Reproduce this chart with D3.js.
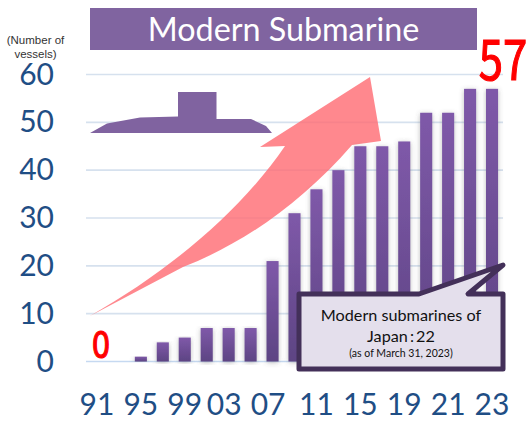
<!DOCTYPE html>
<html>
<head>
<meta charset="utf-8">
<script src="https://cdn.jsdelivr.net/npm/d3@7"></script>
<style>
  html, body { margin: 0; padding: 0; background: #fff; }
  svg { display: block; }
</style>
</head>
<body>
<div id="chart"></div>
<script>
let years = ['91', '93', '95', '97', '99', '01', '03', '05', '07', '09', '11', '13', '15', '17', '19', '20', '21', '22', '23']
let vessels = [0, 0, 1, 4, 5, 7, 7, 7, 21, 31, 36, 40, 45, 45, 46, 52, 52, 57, 57]
let yearLabels = ['91', '95', '99', '03', '07', '11', '15', '19', '21', '23']
let vesselTicks = [0, 10, 20, 30, 40, 50, 60]

let width = 528
let height = 430

let svg = d3.select('#chart').append('svg')
  .attr('width', width)
  .attr('height', height)

let defs = svg.append('defs')

let gradient = defs.append('linearGradient')
  .attr('id', 'bar-fill')
  .attr('x1', 0).attr('x2', 0).attr('y1', 0).attr('y2', 1)
gradient.append('stop').attr('offset', '0%').attr('stop-color', '#7f59a9')
gradient.append('stop').attr('offset', '100%').attr('stop-color', '#5d4483')

defs.append('filter')
  .attr('id', 'bar-shadow')
  .attr('x', '-60%').attr('width', '220%')
  .attr('y', '-5%').attr('height', '115%')
  .append('feDropShadow')
  .attr('dx', 0).attr('dy', 1)
  .attr('stdDeviation', 2.5)
  .attr('flood-color', '#555')
  .attr('flood-opacity', 0.4)

let xScale = d3.scaleBand()
  .domain(years)
  .range([86, 503])
  .paddingInner(0.45)
  .paddingOuter(0.225)

let yScale = d3.scaleLinear()
  .domain([0, 60])
  .range([361.5, 74.5])

// gridlines
svg.append('g')
  .selectAll('line')
  .data(vesselTicks)
  .enter().append('line')
  .attr('x1', 86)
  .attr('x2', d => d === 0 ? 497 : 503)
  .attr('y1', d => yScale(d))
  .attr('y2', d => yScale(d))
  .attr('stroke', d => d === 0 ? '#c6d9f1' : '#d6e1ee')
  .attr('stroke-width', 1.6)

// submarine silhouette
let hull = d3.path()
hull.moveTo(90, 133)
hull.lineTo(107, 123.5)
hull.lineTo(140, 117.5)
hull.lineTo(178, 116.5)
hull.lineTo(178, 92)
hull.lineTo(216.5, 92)
hull.lineTo(216.5, 119)
hull.lineTo(251, 119)
hull.lineTo(266, 126)
hull.lineTo(272, 133)
hull.closePath()

svg.append('path')
  .attr('d', hull.toString())
  .attr('fill', '#8063a0')

// rising arrow behind the bars
let arrow = d3.path()
arrow.moveTo(90, 316)
arrow.bezierCurveTo(170, 270, 240, 212, 285, 146)
arrow.lineTo(260, 147)
arrow.lineTo(370, 77)
arrow.lineTo(381, 141)
arrow.lineTo(352, 145)
arrow.bezierCurveTo(300, 205, 240, 245, 183, 267)
arrow.closePath()

svg.append('path')
  .attr('d', arrow.toString())
  .attr('fill', '#ff6a72')
  .attr('fill-opacity', 0.8)

// bars
svg.append('g')
  .selectAll('rect')
  .data(vessels)
  .enter().append('rect')
  .attr('x', (d, i) => xScale(years[i]))
  .attr('y', d => yScale(d))
  .attr('width', xScale.bandwidth())
  .attr('height', d => yScale(0) - yScale(d))
  .attr('fill', 'url(#bar-fill)')
  .attr('filter', d => d > 0 ? 'url(#bar-shadow)' : null)

// axes
let yAxis = d3.axisLeft(yScale)
  .tickValues(vesselTicks)
  .tickSize(0)
  .tickPadding(0)

svg.append('g')
  .attr('transform', 'translate(54,0)')
  .call(yAxis)
  .call(g => g.select('.domain').remove())
  .selectAll('text')
  .attr('font-family', 'Lato')
  .attr('font-size', 30)
  .attr('fill', '#1f4e85')

let xAxis = d3.axisBottom(xScale)
  .tickValues(yearLabels)
  .tickSize(0)
  .tickPadding(0)

svg.append('g')
  .attr('transform', 'translate(0,394)')
  .call(xAxis)
  .call(g => g.select('.domain').remove())
  .selectAll('text')
  .attr('font-family', 'Lato')
  .attr('font-size', 30)
  .attr('fill', '#1f4e85')
  // 03 and 07 sit a little left of their bars in the original
  .attr('dx', d => (d === '03' || d === '07') ? -4.5 : 0)

// unit label
let unit = svg.append('text')
  .attr('text-anchor', 'middle')
  .attr('font-family', 'Liberation Sans')
  .attr('font-size', 11.5)
  .attr('fill', '#333')
unit.append('tspan').attr('x', 35.5).attr('y', 44).text('(Number of')
unit.append('tspan').attr('x', 35.5).attr('y', 57.5).text('vessels)')

// title
svg.append('rect')
  .attr('x', 90).attr('y', 8)
  .attr('width', 387).attr('height', 42)
  .attr('fill', '#8064a0')

svg.append('text')
  .attr('x', 283.5).attr('y', 41)
  .attr('text-anchor', 'middle')
  .attr('font-family', 'Lato')
  .attr('font-size', 32.3)
  .attr('fill', '#fff')
  .text('Modern Submarine')

// red end labels
function redLabel(value, cx, baseline, size, squeeze) {
  svg.append('text')
    .attr('transform', `translate(${cx},${baseline}) scale(${squeeze},1)`)
    .attr('text-anchor', 'middle')
    .attr('font-family', 'Noto Sans CJK JP')
    .attr('font-size', size)
    .attr('fill', '#ff0000')
    .attr('stroke', '#ff0000')
    .attr('stroke-width', 1.2)
    .text(value)
}
redLabel(vessels[0], xScale(years[0]) + 10, 358, 38, 0.85)
redLabel(vessels[vessels.length - 1], 503, 80, 56, 0.78)

// callout
let callout = d3.path()
callout.moveTo(299, 294)
callout.lineTo(419, 294)
callout.lineTo(503, 265)
callout.lineTo(468, 294)
callout.lineTo(503, 294)
callout.lineTo(503, 369)
callout.lineTo(299, 369)
callout.closePath()

svg.append('path')
  .attr('d', callout.toString())
  .attr('fill', '#e4dfec')
  .attr('stroke', '#433059')
  .attr('stroke-width', 5)
  .attr('stroke-linejoin', 'round')

let note = svg.append('text')
  .attr('text-anchor', 'middle')
  .attr('font-family', 'Lato')
  .attr('fill', '#111')
note.append('tspan').attr('x', 401).attr('y', 321).attr('font-size', 16.2).text('Modern submarines of')
note.append('tspan').attr('x', 401).attr('y', 342).attr('font-size', 16.2).attr('word-spacing', -2).text('Japan : 22')
note.append('tspan').attr('x', 401).attr('y', 357).attr('font-size', 10.5).text('(as of March 31, 2023)')
</script>
</body>
</html>
